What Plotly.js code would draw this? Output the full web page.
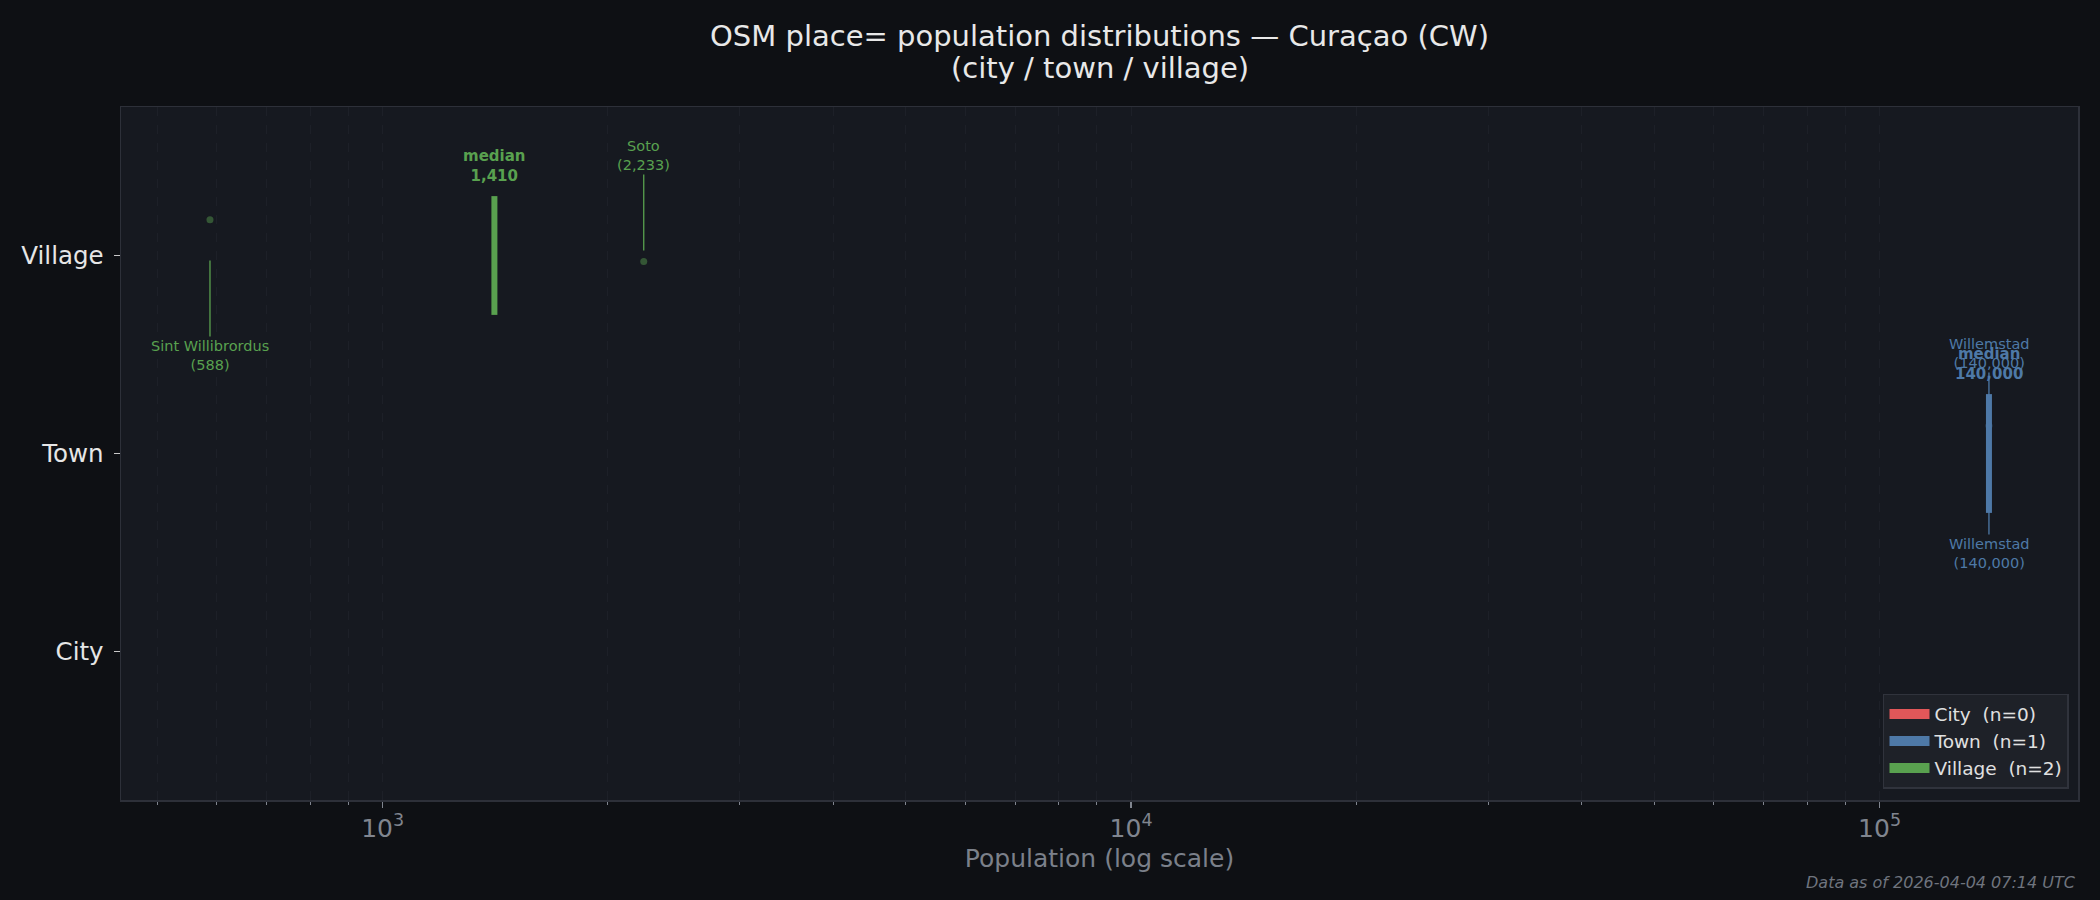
<!DOCTYPE html>
<html>
<head>
<meta charset="utf-8">
<script src="https://cdn.plot.ly/plotly-3.0.1.min.js"></script>
<style>html,body{margin:0;padding:0;background:#0e1014;}</style>
</head>
<body>
<div id="chart" style="width:2100px;height:900px;"></div>
<script>
// ---- data ----
const categories = ['City', 'Town', 'Village'];
const categoryColors = ['#e15759', '#4e79a7', '#59a14f'];
const placeName = ['Willemstad', 'Sint Willibrordus', 'Soto'];
const placeType = ['Town', 'Village', 'Village'];
const placePop = [140000, 588, 2233];
const placeJitter = [0.14, 0.18, -0.03];

const titleLine1 = 'OSM place= population distributions — Curaçao (CW)';
const titleLine2 = '(city / town / village)';
const footerText = 'Data as of 2026-04-04 07:14 UTC';

// ---- helpers ----
function roundHalfEven(v) {
  const f = Math.floor(v), d = v - f;
  if (Math.abs(d - 0.5) < 1e-9) return (f % 2 === 0) ? f : f + 1;
  return Math.round(v);
}
function fmt(v) { return roundHalfEven(v).toLocaleString('en-US'); }
function median(arr) {
  const s = arr.slice().sort((a, b) => a - b);
  const n = s.length;
  return n % 2 ? s[(n - 1) / 2] : (s[n / 2 - 1] + s[n / 2]) / 2;
}
function hexA(hex, a) {
  const r = parseInt(hex.slice(1, 3), 16), g = parseInt(hex.slice(3, 5), 16), b = parseInt(hex.slice(5, 7), 16);
  return `rgba(${r},${g},${b},${a})`;
}

const traces = [];
const annotations = [];
const HALF = 0.3;

categories.forEach((cat, ci) => {
  const idx = placeType.map((t, i) => t === cat ? i : -1).filter(i => i >= 0);
  const col = categoryColors[ci];
  if (idx.length === 0) return;
  const pops = idx.map(i => placePop[i]);
  // points
  traces.push({
    type: 'scatter', mode: 'markers',
    x: pops, y: idx.map(i => ci + placeJitter[i]),
    marker: {size: 7, color: hexA(col, 0.45), line: {width: 0}},
    showlegend: false, hoverinfo: 'skip'
  });
  // median line
  const m = median(pops);
  traces.push({
    type: 'scatter', mode: 'lines',
    x: [m, m], y: [ci - HALF, ci + HALF],
    line: {color: col, width: 6},
    showlegend: false, hoverinfo: 'skip'
  });
  annotations.push({
    x: Math.log10(m), y: ci + HALF, xref: 'x', yref: 'y',
    text: '<b>median<br>' + fmt(m) + '</b>',
    showarrow: false, yanchor: 'bottom', yshift: 9,
    font: {size: 15, color: col}
  });
  // min / max labels
  let iMin = idx[0], iMax = idx[0];
  idx.forEach(i => {
    if (placePop[i] < placePop[iMin]) iMin = i;
    if (placePop[i] > placePop[iMax]) iMax = i;
  });
  [[iMin, 100], [iMax, -100]].forEach(([i, ay]) => {
    annotations.push({
      x: Math.log10(placePop[i]), y: ci, xref: 'x', yref: 'y',
      text: placeName[i] + '<br>(' + fmt(placePop[i]) + ')',
      showarrow: true, arrowhead: 0, arrowwidth: 1.3, arrowcolor: col,
      ax: 0, ay: ay, standoff: 5,
      font: {size: 14.5, color: col}
    });
  });
});

// legend entries
categories.forEach((cat, ci) => {
  const n = placeType.filter(t => t === cat).length;
  traces.push({
    type: 'scatter', mode: 'lines', x: [null], y: [null],
    name: cat + '\u00a0 (n=' + n + ')',
    line: {color: categoryColors[ci], width: 14},
    showlegend: true, hoverinfo: 'skip'
  });
});

annotations.push({
  xref: 'paper', yref: 'paper', x: 0.5, y: 1, xanchor: 'center', yanchor: 'middle',
  yshift: 39, showarrow: false, text: titleLine2,
  font: {size: 29, color: '#e8e8e8'}
});
annotations.push({
  xref: 'paper', yref: 'paper', x: 1, y: 0, xanchor: 'right', yanchor: 'middle',
  yshift: -82, showarrow: false, text: footerText,
  font: {size: 16, color: '#6f747e', style: 'italic'}
});

const gridCol = '#1d2028';
const layout = {
  width: 2100, height: 900,
  paper_bgcolor: '#0e1014', plot_bgcolor: '#161920',
  font: {family: 'DejaVu Sans, sans-serif', color: '#e6e6e6'},
  margin: {l: 121, r: 22, t: 107, b: 100, pad: 0},
  title: {
    text: titleLine1, x: 0.5, xref: 'paper', xanchor: 'center',
    y: 1 - 36 / 900, yref: 'container', yanchor: 'middle',
    font: {size: 29, color: '#e8e8e8'}
  },
  xaxis: {
    type: 'log', range: [2.6505, 5.2651],
    dtick: 1, exponentformat: 'power',
    tickfont: {size: 20, color: '#80858f'},
    ticks: 'outside', ticklen: 6, tickwidth: 1.5, tickcolor: '#80858f',
    showgrid: true, gridcolor: gridCol, griddash: 'dash', gridwidth: 1,
    minor: {dtick: 'D1', ticks: 'outside', ticklen: 3.5, tickwidth: 1, tickcolor: '#80858f',
            showgrid: true, gridcolor: gridCol, griddash: 'dash', gridwidth: 1},
    showline: true, linecolor: '#2d3039', linewidth: 1.5, mirror: true, zeroline: false,
    title: {text: 'Population (log scale)', font: {size: 25, color: '#7b808a'}, standoff: 8}
  },
  yaxis: {
    range: [-0.75, 2.75], tickmode: 'array', tickvals: categories.map((c, i) => i), ticktext: categories,
    tickfont: {size: 24.5, color: '#e6e6e6'},
    ticks: 'outside', ticklen: 6, tickwidth: 1.5, tickcolor: '#c8c8c8',
    ticklabelstandoff: 5,
    showgrid: false, zeroline: false,
    showline: true, linecolor: '#2d3039', linewidth: 1.5, mirror: true
  },
  legend: {
    x: 0.9954, xanchor: 'right', y: 0.016, yanchor: 'bottom',
    bgcolor: '#1e2128', bordercolor: '#30333c', borderwidth: 1.5,
    font: {size: 18.5, color: '#e0e0e0'}, itemwidth: 40
  },
  annotations: annotations,
  showlegend: true
};

Plotly.newPlot('chart', traces, layout, {staticPlot: true, displayModeBar: false});
</script>
</body>
</html>
